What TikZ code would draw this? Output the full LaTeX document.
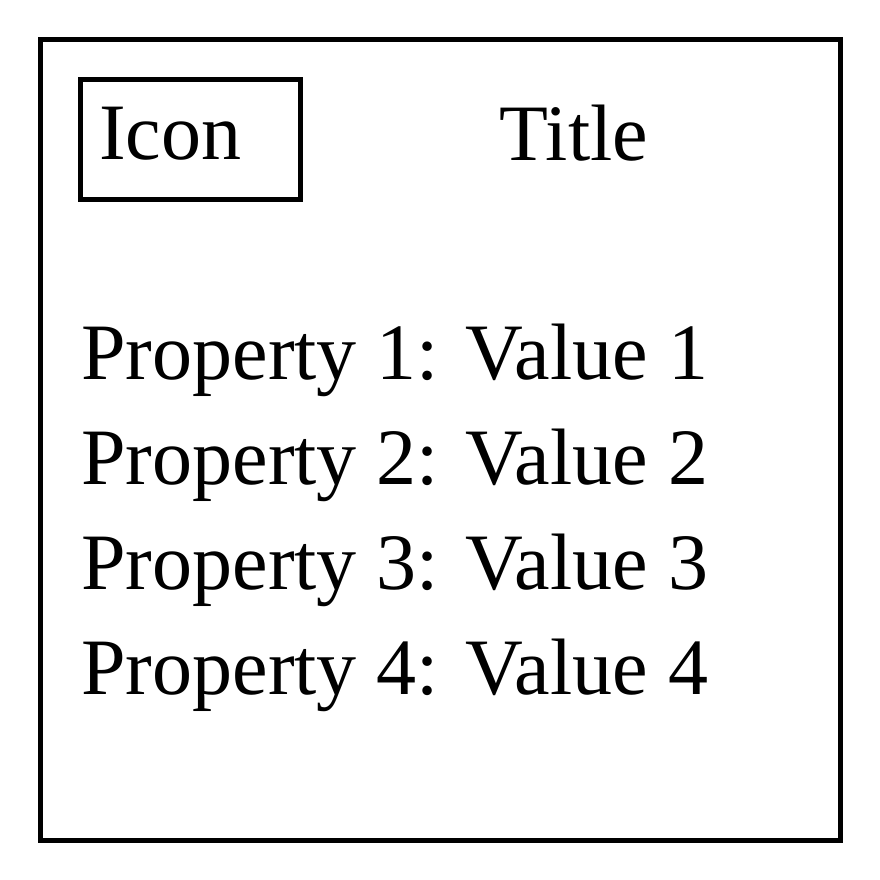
\documentclass[tikz,border=0pt]{standalone}
\usepackage{fontspec}
\setmainfont{Liberation Serif}
\usepackage{tikz}
\usetikzlibrary{positioning}

\begin{document}
\begin{tikzpicture}[x=0.1mm,y=-0.1mm,node distance=0pt,line width=0.5mm,
	big text/.style={font=\fontsize{22.76}{27}\selectfont},
	icon box/.style={draw,big text,minimum width=22mm,minimum height=12mm,inner xsep=1.9mm,
		text width=18.2mm,align=left,text height=5.3mm,text depth=1.4mm},
	prop/.style={big text,inner sep=0pt,text height=7.6mm,text depth=2.4mm}]
	
	\useasboundingbox (0,0) rectangle (880,880);
	
	% card frame
	\draw (40,40) rectangle (840,840);
	
	% header
	\node[icon box] (icon) at (190,140) {Icon};
	\node[big text,inner sep=0pt,anchor=base] (title) at (574,161) {Title};
	
	% property list
	\node[prop,anchor=base west] (p1) at (79,379) {Property 1: Value 1};
	\node[prop] (p2) [below=of p1] {Property 2: Value 2};
	\node[prop] (p3) [below=of p2] {Property 3: Value 3};
	\node[prop] (p4) [below=of p3] {Property 4: Value 4};
	
\end{tikzpicture}
\end{document}
